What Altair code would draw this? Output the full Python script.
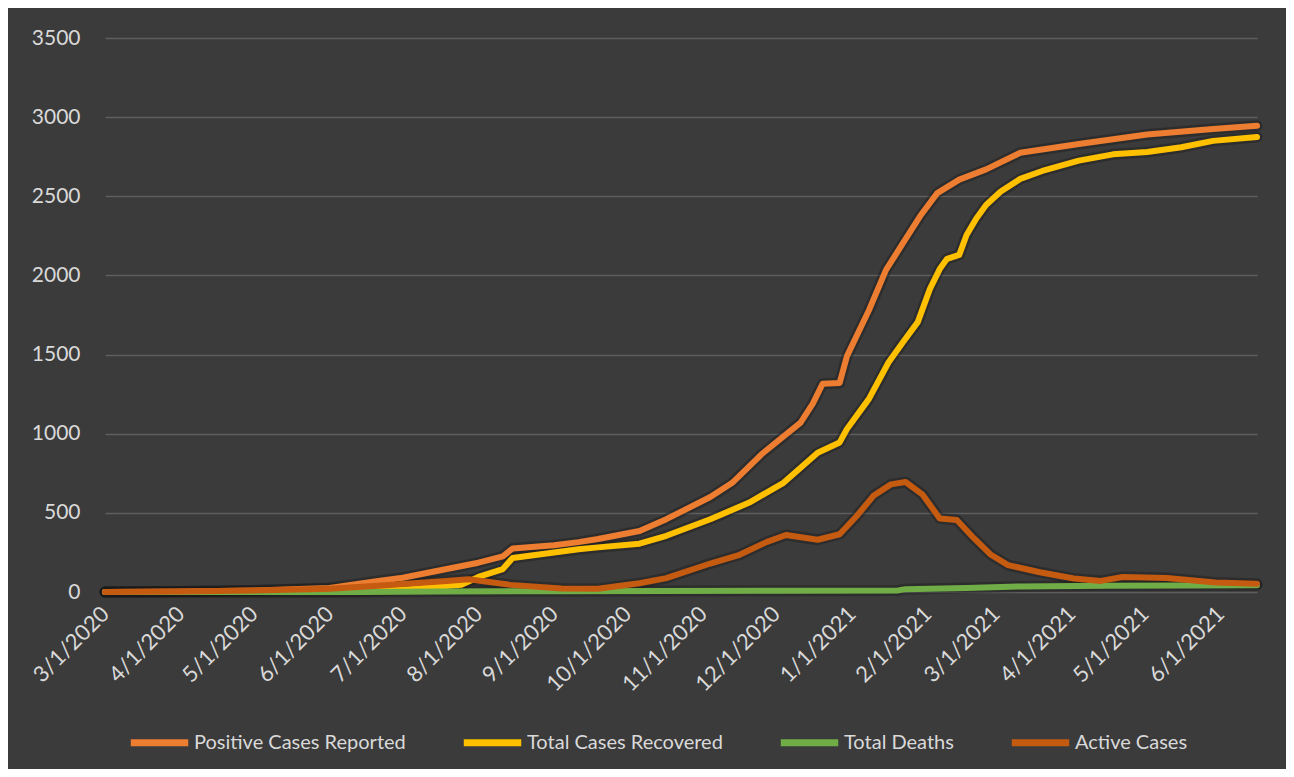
import altair as alt
import pandas as pd

# ---------------- data ----------------
pos_dates = ["2020-03-01", "2020-04-01", "2020-05-01", "2020-06-01", "2020-06-21", "2020-07-01",
             "2020-07-19", "2020-08-01", "2020-08-11", "2020-08-15", "2020-09-01", "2020-09-11",
             "2020-09-19", "2020-10-06", "2020-10-17", "2020-11-04", "2020-11-13", "2020-11-25",
             "2020-12-11", "2020-12-16", "2020-12-20", "2020-12-27", "2020-12-30", "2021-01-08",
             "2021-01-15", "2021-01-22", "2021-01-29", "2021-02-05", "2021-02-14", "2021-02-25",
             "2021-03-11", "2021-04-04", "2021-05-02", "2021-05-29", "2021-06-16"]
pos_vals = [0, 3, 10, 25, 70, 90, 145, 185, 225, 275, 295, 315, 335, 385, 460, 600, 690, 870,
            1070, 1190, 1315, 1320, 1490, 1780, 2035, 2205, 2375, 2520, 2605, 2670, 2775, 2830,
            2890, 2925, 2945]

rec_dates = ["2020-03-01", "2020-06-01", "2020-06-15", "2020-07-01", "2020-07-25", "2020-08-01",
             "2020-08-11", "2020-08-15", "2020-09-11", "2020-09-19", "2020-10-06", "2020-10-17",
             "2020-11-04", "2020-11-20", "2020-12-04", "2020-12-18", "2020-12-27", "2020-12-30",
             "2021-01-08", "2021-01-16", "2021-01-22", "2021-01-28", "2021-02-02", "2021-02-06",
             "2021-02-09", "2021-02-14", "2021-02-17", "2021-02-21", "2021-02-25", "2021-03-03",
             "2021-03-11", "2021-03-20", "2021-04-04", "2021-04-18", "2021-05-02", "2021-05-16",
             "2021-05-29", "2021-06-16"]
rec_vals = [0, 0, 5, 15, 45, 95, 145, 215, 270, 282, 305, 355, 460, 565, 690, 880, 945, 1030,
            1220, 1450, 1580, 1705, 1915, 2040, 2105, 2130, 2255, 2360, 2445, 2530, 2610, 2660,
            2725, 2765, 2780, 2810, 2850, 2875]

dth_dates = ["2020-03-01", "2020-06-15", "2020-07-15", "2020-09-01", "2020-12-01", "2021-01-20",
             "2021-01-23", "2021-02-17", "2021-03-11", "2021-04-15", "2021-06-16"]
dth_vals = [0, 0, 3, 5, 8, 10, 18, 26, 35, 40, 43]

act_dates = ["2020-03-01", "2020-04-01", "2020-05-01", "2020-06-01", "2020-06-21", "2020-07-01",
             "2020-07-19", "2020-07-28", "2020-08-14", "2020-09-04", "2020-09-19", "2020-10-06",
             "2020-10-17", "2020-11-04", "2020-11-16", "2020-11-27", "2020-12-05", "2020-12-18",
             "2020-12-27", "2021-01-03", "2021-01-10", "2021-01-17", "2021-01-23", "2021-01-30",
             "2021-02-06", "2021-02-13", "2021-02-20", "2021-02-27", "2021-03-06", "2021-03-19",
             "2021-04-02", "2021-04-13", "2021-04-22", "2021-05-10", "2021-05-30", "2021-06-16"]
act_vals = [0, 3, 10, 20, 40, 50, 70, 80, 45, 22, 20, 55, 88, 180, 235, 315, 360, 330, 365, 480,
            610, 680, 695, 615, 465, 455, 340, 235, 170, 125, 85, 70, 95, 88, 60, 52]

series_names = ["Positive Cases Reported", "Total Cases Recovered", "Total Deaths", "Active Cases"]
series_colors = ["#ED7D31", "#FFC000", "#70AD47", "#C55A11"]
y_ticks = [0, 500, 1000, 1500, 2000, 2500, 3000, 3500]
x_tick_months = [(2020, m) for m in range(3, 13)] + [(2021, m) for m in range(1, 7)]

# ---------------- table ----------------
frames = []
for name, d, v in zip(series_names, [pos_dates, rec_dates, dth_dates, act_dates],
                      [pos_vals, rec_vals, dth_vals, act_vals]):
    frames.append(pd.DataFrame({"date": d, "value": v, "series": name}))
df = pd.concat(frames, ignore_index=True)

FONT = "Lato"
W, H = 1152, 554

x_enc = alt.X(
    "date:T",
    scale=alt.Scale(type="utc", domain=[alt.DateTime(year=2020, month=3, date=1, utc=True),
                                        alt.DateTime(year=2021, month=6, date=16, utc=True)],
                    nice=False),
    axis=alt.Axis(
        values=[alt.DateTime(year=yy, month=mm, date=1, utc=True) for yy, mm in x_tick_months],
        format="%-m/%-d/%Y", labelAngle=-45, labelAlign="right", labelBaseline="middle",
        labelFont=FONT, labelFontSize=22, labelColor="#d9d9d9", labelPadding=18,
        ticks=False, domain=False, grid=False, title=None, labelOverlap=False, labelFlush=False),
)
y_enc = alt.Y(
    "value:Q",
    scale=alt.Scale(domain=[0, 3500], nice=False),
    axis=alt.Axis(values=y_ticks, format="d", labelFont=FONT, labelFontSize=21,
                  labelColor="#d9d9d9", labelPadding=25, ticks=False, domain=False, grid=True,
                  gridColor="#5e5e5e", gridWidth=1.5, title=None),
)

base = alt.Chart(df)

shadow = base.mark_line(strokeWidth=11, color="#151515", opacity=0.35, strokeJoin="round",
                        strokeCap="round").encode(
    x=x_enc, y=y_enc, detail="series:N", order="date:T")

lines = base.mark_line(strokeWidth=6, strokeJoin="round", strokeCap="round").encode(
    x=x_enc, y=y_enc,
    color=alt.Color(
        "series:N",
        scale=alt.Scale(domain=series_names, range=series_colors),
        legend=alt.Legend(orient="none", legendX=22, legendY=672, direction="horizontal",
                          title=None, symbolType="stroke", symbolStrokeWidth=7,
                          symbolSize=3300, labelFont=FONT, labelFontSize=20,
                          labelColor="#d9d9d9", columnPadding=43, labelOffset=2,
                          labelLimit=400, symbolOpacity=1),
        sort=series_names,
    ),
    order="date:T",
)

chart = alt.layer(shadow, lines).properties(
    width=W, height=H,
    background="#3b3b3b",
    padding={"left": 97, "top": 30, "right": 29, "bottom": 177},
    autosize=alt.AutoSizeParams(type="none"),
).configure_view(stroke=None)

chart.save("out.html", embed_options={"renderer": "svg", "actions": False})
